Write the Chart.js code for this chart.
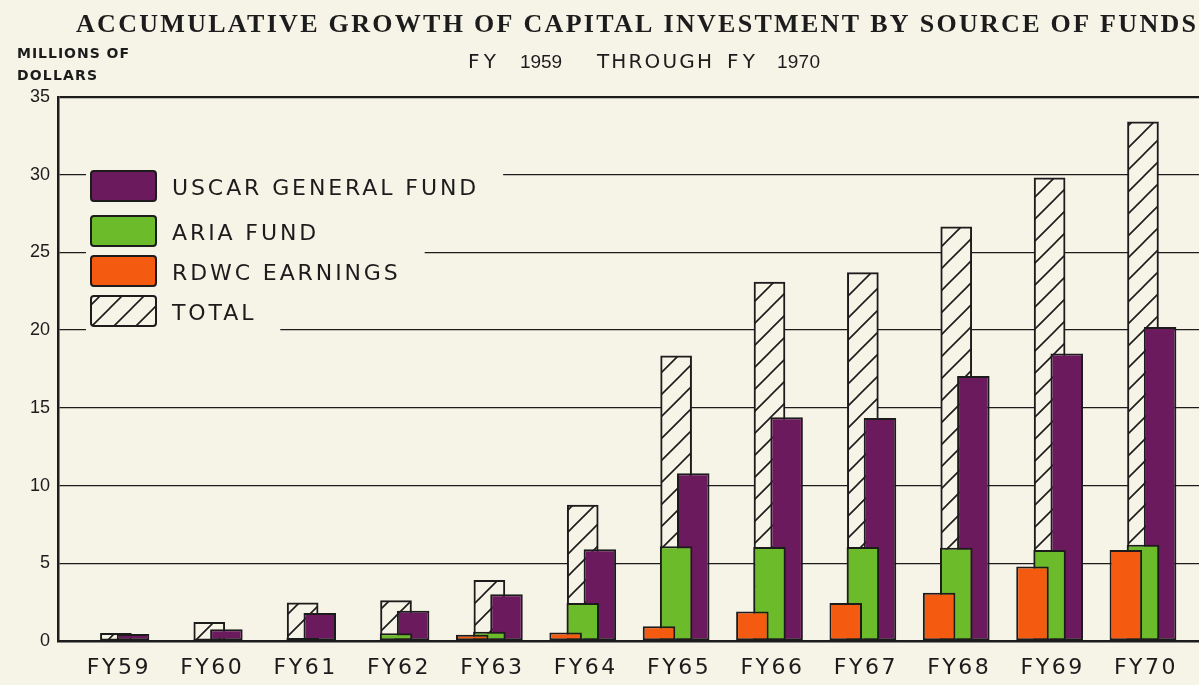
<!DOCTYPE html>
<html>
<head>
<meta charset="utf-8">
<title>Accumulative Growth of Capital Investment by Source of Funds</title>
<script src="https://cdn.jsdelivr.net/npm/chart.js@4.4.1/dist/chart.umd.min.js"></script>
<style>
  html, body { margin: 0; padding: 0; background: #f6f3e7; }
  canvas { display: block; }
</style>
</head>
<body>
<canvas id="growthChart" width="1199" height="685"></canvas>
<script>
// values, millions of dollars
const categories = ["FY59", "FY60", "FY61", "FY62", "FY63", "FY64", "FY65", "FY66", "FY67", "FY68", "FY69", "FY70"];
const uscarFund = [0.45, 0.75, 1.8, 1.95, 3.0, 5.9, 10.8, 14.4, 14.35, 17.05, 18.5, 20.2];
const ariaFund = [0, 0.1, 0.2, 0.5, 0.6, 2.45, 6.1, 6.05, 6.05, 6.0, 5.85, 6.2];
const rdwcEarnings = [0, 0, 0, 0, 0.4, 0.55, 0.95, 1.9, 2.45, 3.1, 4.8, 5.85];
const totalFunds = [0.5, 1.2, 2.45, 2.6, 3.9, 8.75, 18.35, 23.1, 23.7, 26.65, 29.8, 33.4];
const yTicks = [0, 5, 10, 15, 20, 25, 30, 35];

const paper = "#f6f3e7";
const ink = "#1c1c1c";
const purple = "#6b1a5d";
const green = "#6cbb2b";
const orange = "#f45a10";

const canvas = document.getElementById("growthChart");
const ctx = canvas.getContext("2d");

function makeHatch() {
  const s = 22;
  const tile = document.createElement("canvas");
  tile.width = s;
  tile.height = s;
  const t = tile.getContext("2d");
  t.fillStyle = paper;
  t.fillRect(0, 0, s, s);
  t.strokeStyle = ink;
  t.lineWidth = 1.6;
  t.beginPath();
  t.moveTo(-2, s + 2); t.lineTo(s + 2, -2);
  t.moveTo(-2, 2); t.lineTo(2, -2);
  t.moveTo(s - 2, s + 2); t.lineTo(s + 2, s - 2);
  t.stroke();
  return ctx.createPattern(tile, "repeat");
}
const hatch = makeHatch();

const toPoints = arr => arr.map((v, i) => ({ x: i, y: v }));

// draws text starting at x and stretched to a given width with letter spacing
function spacedText(c, text, x, y, width) {
  c.letterSpacing = "0px";
  const natural = c.measureText(text).width;
  const gap = width ? (width - natural) / (text.length - 1) : 0;
  c.letterSpacing = gap + "px";
  c.fillText(text, x, y);
  c.letterSpacing = "0px";
}

const legendRows = [
  { label: "USCAR GENERAL FUND", fill: purple },
  { label: "ARIA FUND", fill: green },
  { label: "RDWC EARNINGS", fill: orange },
  { label: "TOTAL", fill: hatch }
];

const textPlugin = {
  id: "paperText",
  afterDraw(chart) {
    const c = chart.ctx;
    c.save();
    c.fillStyle = ink;
    c.textAlign = "left";
    c.textBaseline = "alphabetic";

    c.font = "bold 26px 'Liberation Serif'";
    spacedText(c, "ACCUMULATIVE GROWTH OF CAPITAL INVESTMENT BY SOURCE OF FUNDS", 76, 32, 1120);

    // subtitle: words in a wide sans, years a little narrower
    c.font = "20px 'DejaVu Sans'";
    spacedText(c, "FY", 468, 68, 28);
    spacedText(c, "THROUGH", 597, 68, 115);
    spacedText(c, "FY", 727, 68, 28);
    c.font = "19px 'Liberation Sans'";
    spacedText(c, "1959", 520, 68, 42);
    spacedText(c, "1970", 777, 68, 43);

    c.font = "bold 14px 'DejaVu Sans'";
    spacedText(c, "MILLIONS OF", 17, 58, 112);
    spacedText(c, "DOLLARS", 17, 80, 80);

    // category labels under the axis, spaced out like the lettering
    const xs = chart.scales.x;
    c.font = "22px 'DejaVu Sans'";
    c.textAlign = "center";
    c.letterSpacing = "2.5px";
    categories.forEach((label, i) => {
      c.fillText(label, xs.getPixelForValue(i) + 3, 674);
    });
    c.letterSpacing = "0px";
    c.textAlign = "left";

    // legend, with paper behind it so the grid lines break around it
    const tops = [171, 216, 256, 296];
    c.font = "22px 'DejaVu Sans'";
    legendRows.forEach((row, i) => {
      const top = tops[i];
      c.letterSpacing = "2.9px";
      const w = c.measureText(row.label).width;
      c.letterSpacing = "0px";
      c.fillStyle = paper;
      c.fillRect(86, top - 6, 172 - 86 + w + 24, 42);
    });
    legendRows.forEach((row, i) => {
      const top = tops[i];
      c.beginPath();
      c.roundRect(91, top, 65, 30, 3);
      c.fillStyle = row.fill;
      c.fill();
      c.lineWidth = 2;
      c.strokeStyle = ink;
      c.stroke();
      c.fillStyle = ink;
      c.letterSpacing = "2.9px";
      c.fillText(row.label, 172, top + 24);
      c.letterSpacing = "0px";
    });
    c.restore();
  }
};

const common = {
  borderColor: ink,
  borderWidth: 2,
  borderSkipped: false,
  categoryPercentage: 0.55,
  barPercentage: 1.9
};

new Chart(ctx, {
  type: "bar",
  data: {
    datasets: [
      { ...common, label: "RDWC EARNINGS", data: toPoints(rdwcEarnings), backgroundColor: orange, order: 0 },
      { ...common, label: "ARIA FUND", data: toPoints(ariaFund), backgroundColor: green, order: 1 },
      { ...common, label: "USCAR GENERAL FUND", data: toPoints(uscarFund), backgroundColor: purple, order: 2 },
      { ...common, label: "TOTAL", data: toPoints(totalFunds), backgroundColor: hatch, order: 3, grouped: false, barThickness: 31 }
    ]
  },
  options: {
    responsive: false,
    animation: false,
    devicePixelRatio: 1,
    layout: { padding: { top: 97, right: 0, bottom: 0, left: 0 } },
    plugins: {
      legend: { display: false },
      tooltip: { enabled: false },
      title: { display: false }
    },
    scales: {
      x: {
        type: "linear",
        offset: false,
        min: -0.62,
        max: 11.6,
        afterBuildTicks: s => { s.ticks = categories.map((c, i) => ({ value: i })); },
        ticks: { display: false },
        grid: { display: false, drawTicks: false, offset: false },
        border: { display: true, color: ink, width: 2.5 },
        afterFit: s => { s.height = 44; }
      },
      y: {
        min: 0,
        max: 35,
        afterBuildTicks: s => { s.ticks = yTicks.map(v => ({ value: v })); },
        ticks: {
          font: { family: "Liberation Sans", size: 18 },
          color: ink,
          padding: 8
        },
        grid: {
          color: ink,
          lineWidth: c => (c.tick && c.tick.value === 35 ? 2.2 : 1.3),
          drawTicks: false
        },
        border: { color: ink, width: 2.5 },
        afterFit: s => { s.width = 58; }
      }
    }
  },
  plugins: [textPlugin]
});
</script>
</body>
</html>
